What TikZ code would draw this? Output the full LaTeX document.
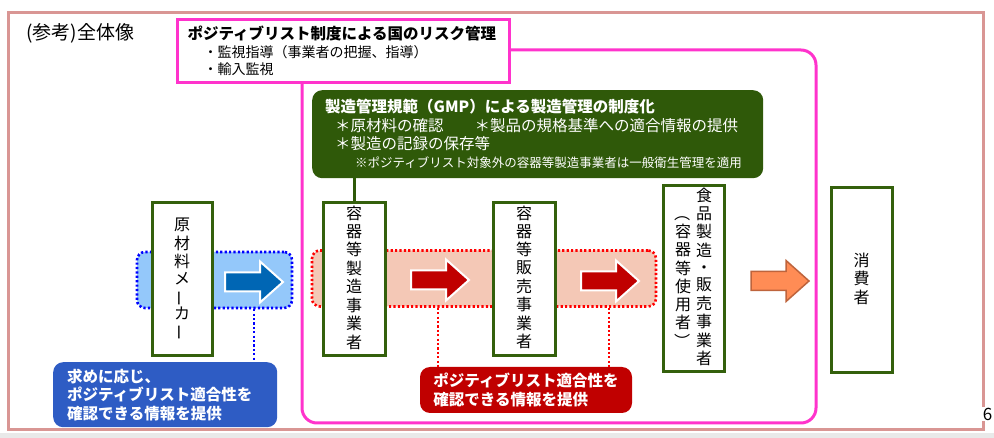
\documentclass[tikz,border=0pt]{standalone}
\usepackage{fontspec}
\setmainfont{Noto Sans CJK JP}
\usepackage{graphicx}

\definecolor{framepink}{RGB}{217,150,148}
\definecolor{pinkline}{RGB}{255,51,204}
\definecolor{gmpgreen}{RGB}{47,89,9}
\definecolor{boxgreen}{RGB}{52,96,12}
\definecolor{bandblue}{RGB}{148,200,250}
\definecolor{dotblue}{RGB}{0,0,255}
\definecolor{arrowblue}{RGB}{0,102,180}
\definecolor{infoblue}{RGB}{46,92,196}
\definecolor{bandred}{RGB}{244,200,182}
\definecolor{dotred}{RGB}{255,0,0}
\definecolor{darkred}{RGB}{192,0,0}
\definecolor{orangefill}{RGB}{255,140,85}
\definecolor{orangeline}{RGB}{190,100,60}

% vertical writing: one character per row
\newcommand\tate[1]{\begin{tabular}{@{}c@{}}#1\end{tabular}}
\newcommand\tatebar{\rotatebox[origin=c]{90}{ー}}
\newcommand\tateopen{\rotatebox[origin=c]{-90}{（}}
\newcommand\tateclose{\rotatebox[origin=c]{-90}{）}}

\begin{document}
\begin{tikzpicture}[x=1pt,y=1pt,yscale=-1,
  firm/.style={draw=boxgreen,line width=3pt,fill=white,inner sep=0pt,
    font=\fontsize{16}{16.8}\selectfont},
  band/.style={rounded corners=8pt,line width=2.6pt,dash pattern=on 2.2pt off 2.2pt},
  drop/.style={line width=2.6pt,dash pattern=on 2.2pt off 2.2pt},
  infobox/.style={rounded corners=10pt,text=white,inner sep=0pt,align=left,
    font=\bfseries\fontsize{15.5}{18.5}\selectfont},
  blockarr/.pic={\path[pic actions] (0,-9.5) -- (35,-9.5) -- (35,-20.5) --
    (58,0) -- (35,20.5) -- (35,9.5) -- (0,9.5) -- cycle;}]
  \useasboundingbox (0,0) rectangle (994,438);
  \fill[gray!17] (0,433) rectangle (994,438);
  \draw[framepink,line width=3pt] (8,13) rectangle (983,430);
  \node[anchor=west,font=\fontsize{19}{20}\selectfont] (title) at (23,33) {(参考)全体像};

  % risk management by the state
  \draw[pinkline,line width=3pt,rounded corners=15pt] (302,50) rectangle (816,423);
  \node[draw=pinkline,line width=3pt,fill=white,anchor=north west,
    minimum width=332pt,minimum height=63pt,text width=312pt,inner xsep=10pt,
    align=left,font=\fontsize{14}{17.5}\selectfont] (risk) at (176,18)
    {{\bfseries\fontsize{15.5}{17.5}\selectfont ポジティブリスト制度による国のリスク管理}\\
     {\fontsize{14}{17.5}\selectfont\hspace*{16pt}・監視指導（事業者の把握、指導）}\\
     {\fontsize{14}{17.5}\selectfont\hspace*{16pt}・輸入監視}};

  % GMP
  \node[fill=gmpgreen,rounded corners=10pt,text=white,anchor=north west,
    minimum width=451pt,minimum height=88pt,text width=425pt,inner xsep=13pt,
    align=left,font=\fontsize{15.5}{18.3}\selectfont] (gmp) at (312,90)
    {{\bfseries 製造管理規範（GMP）による製造管理の制度化}\\
     \hspace*{10pt}＊原材料の確認\hspace{31pt}＊製品の規格基準への適合情報の提供\\
     \hspace*{10pt}＊製造の記録の保存等\\
     \hspace*{30pt}{\fontsize{12.5}{18.3}\selectfont ※ポジティブリスト対象外の容器等製造事業者は一般衛生管理を適用}};

  \node[band,draw=dotblue,fill=bandblue,minimum width=155pt,minimum height=56pt] (bband) at (214.5,280) {};
  \node[band,draw=dotred,fill=bandred,minimum width=344pt,minimum height=56pt] (rband) at (484,278.5) {};

  \pic[fill=arrowblue,draw=white,line width=2pt] (barrow) at (225,282) {blockarr};
  \pic[fill=darkred,draw=white,line width=2pt] (rarrowa) at (411,280) {blockarr};
  \pic[fill=darkred,draw=white,line width=2pt] (rarrowb) at (581,281) {blockarr};
  \pic[fill=orangefill,draw=orangeline,line width=1.5pt] (oarrow) at (751,281) {blockarr};

  \node[firm,minimum width=60pt,minimum height=153pt] (maker) at (182,279.5)
    {\tate{原\\材\\料\\メ\\\tatebar\\カ\\\tatebar}};
  \node[firm,minimum width=62pt,minimum height=153pt] (producer) at (354,279.5)
    {\tate{容\\器\\等\\製\\造\\事\\業\\者}};
  \node[firm,minimum width=62pt,minimum height=153pt] (seller) at (524,279.5)
    {\tate{容\\器\\等\\販\\売\\事\\業\\者}};
  \node[firm,minimum width=61pt,minimum height=186pt] (user) at (693.5,279)
    {\tate{\tateopen\\容\\器\\等\\使\\用\\者\\\tateclose}\hspace{5pt}%
     \tate{食\\品\\製\\造\\・\\販\\売\\事\\業\\者}};
  \node[firm,minimum width=61pt,minimum height=185pt] (consumer) at (861.5,280.5)
    {\tate{消\\費\\者}};

  \draw[gmpgreen,line width=3pt] (gmp.south -| producer.north) -- (producer.north);

  \node[infobox,fill=infoblue,anchor=north west,minimum width=224pt,minimum height=65pt,
    text width=196pt,inner xsep=14pt] (supply) at (53,362)
    {求めに応じ、\\ポジティブリスト適合性を\\確認できる情報を提供};
  \node[infobox,fill=darkred,minimum width=212pt,minimum height=46pt] (confirm) at (526,390)
    {ポジティブリスト適合性を\\確認できる情報を提供};

  \draw[drop,dotblue] (254,0 |- bband.south) -- (254,0 |- supply.north);
  \draw[drop,dotred] (438,0 |- rband.south) -- (438,0 |- confirm.north);
  \draw[drop,dotred] (609,0 |- rband.south) -- (609,0 |- confirm.north);

  \node[font=\fontsize{17}{18}\selectfont,fill=white,inner sep=0.5pt] (page) at (987.5,414) {6};
\end{tikzpicture}
\end{document}
